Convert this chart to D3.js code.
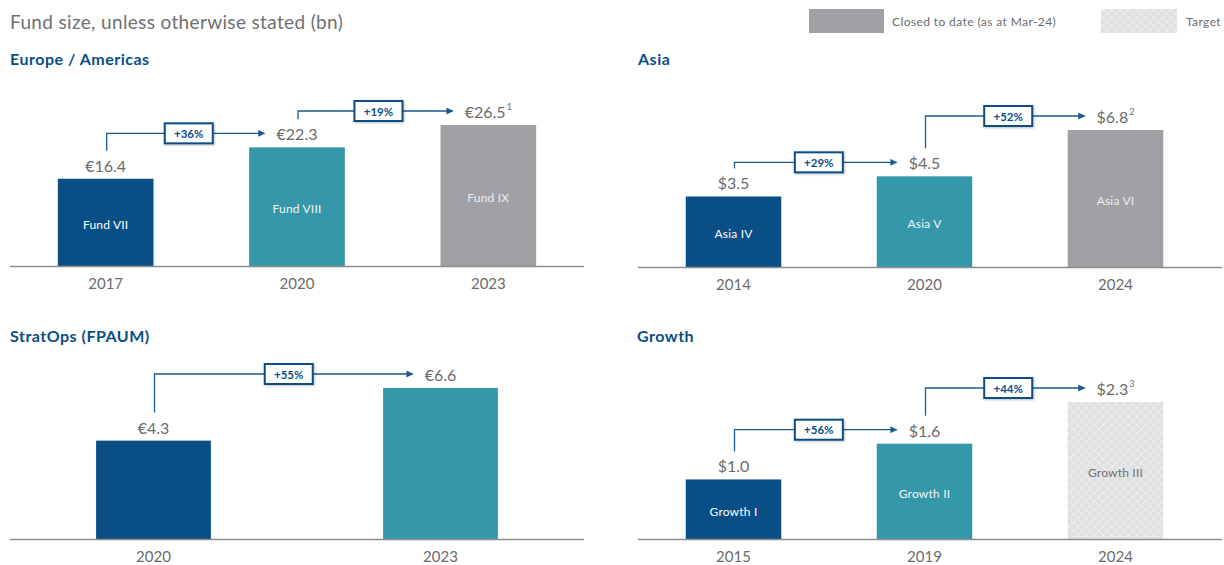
<!DOCTYPE html>
<html>
<head>
<meta charset="utf-8">
<script src="https://cdn.jsdelivr.net/npm/d3@7"></script>
<style>
  body { margin: 0; background: #fff; }
  svg { font-family: Lato, "Open Sans", sans-serif; display: block; }
</style>
</head>
<body>
<svg id="chart" width="1224" height="565"></svg>
<script>
// fund sizes in bn
var euYears = ["2017", "2020", "2023"];
var euValues = [16.4, 22.3, 26.5];
var euFunds = ["Fund VII", "Fund VIII", "Fund IX"];
var euChange = ["+36%", "+19%"];
var euNotes = ["", "", "1"];
var euStatus = ["old", "recent", "closed"];

var asiaYears = ["2014", "2020", "2024"];
var asiaValues = [3.5, 4.5, 6.8];
var asiaFunds = ["Asia IV", "Asia V", "Asia VI"];
var asiaChange = ["+29%", "+52%"];
var asiaNotes = ["", "", "2"];
var asiaStatus = ["old", "recent", "closed"];

var stratYears = ["2020", "2023"];
var stratValues = [4.3, 6.6];
var stratFunds = ["", ""];
var stratChange = ["+55%"];
var stratNotes = ["", ""];
var stratStatus = ["old", "recent"];

var growthYears = ["2015", "2019", "2024"];
var growthValues = [1.0, 1.6, 2.3];
var growthFunds = ["Growth I", "Growth II", "Growth III"];
var growthChange = ["+56%", "+44%"];
var growthNotes = ["", "", "3"];
var growthStatus = ["old", "recent", "target"];

var BLUE = "#0a4e86", TEAL = "#3598aa", GREY = "#a0a1a5", HATCH = "#dfe0e2";
var TXT = "#6b6b6b", ARROW = "#1d5a90";

var fills = { old: BLUE, recent: TEAL, closed: GREY, target: "url(#hatch)" };
var innerText = { old: "#ffffff", recent: "#f2f6f7", closed: "#eeeeee", target: "#707070" };

var svg = d3.select("#chart");
var defs = svg.append("defs");

var hatch = defs.append("pattern").attr("id", "hatch")
  .attr("patternUnits", "userSpaceOnUse").attr("width", 6).attr("height", 6)
  .attr("patternTransform", "rotate(45)");
hatch.append("rect").attr("width", 6).attr("height", 6).attr("fill", HATCH);
hatch.append("path").attr("d", "M0,0H6M0,0V6").attr("stroke", "#f7f7f8").attr("stroke-width", 1.1);

defs.append("marker").attr("id", "arrowhead")
  .attr("viewBox", "0 0 10 10").attr("refX", 9).attr("refY", 5)
  .attr("markerWidth", 7).attr("markerHeight", 7).attr("markerUnits", "userSpaceOnUse")
  .attr("orient", "auto")
  .append("path").attr("d", "M0,0L10,5L0,10z").attr("fill", ARROW);

var shadow = defs.append("filter").attr("id", "shadow")
  .attr("x", "-20%").attr("y", "-30%").attr("width", "150%").attr("height", "180%");
shadow.append("feDropShadow").attr("dx", 1).attr("dy", 1).attr("stdDeviation", 1)
  .attr("flood-color", "#000").attr("flood-opacity", 0.25);

// header + legend
svg.append("text").attr("x", 10).attr("y", 21).attr("dominant-baseline", "central")
  .attr("font-size", 19).attr("letter-spacing", 0.35).attr("fill", "#707070")
  .text("Fund size, unless otherwise stated (bn)");

svg.append("rect").attr("x", 809).attr("y", 9).attr("width", 75).attr("height", 24).attr("fill", GREY);
svg.append("text").attr("x", 892).attr("y", 21).attr("dominant-baseline", "central")
  .attr("font-size", 12).attr("letter-spacing", 0.4).attr("fill", TXT).text("Closed to date (as at Mar-24)");
svg.append("rect").attr("x", 1101).attr("y", 9).attr("width", 76).attr("height", 24).attr("fill", "url(#hatch)");
svg.append("text").attr("x", 1186).attr("y", 21).attr("dominant-baseline", "central")
  .attr("font-size", 12).attr("letter-spacing", 0.4).attr("fill", TXT).text("Target");

function drawPanel(p) {
  var g = svg.append("g");

  g.append("text").attr("x", p.tx).attr("y", p.ty).attr("dominant-baseline", "central")
    .attr("font-size", 16).attr("letter-spacing", 0.5).attr("font-weight", 700)
    .attr("fill", BLUE).text(p.title);

  var x = d3.scaleBand().domain(p.years).range(p.range)
    .paddingInner(p.pad).paddingOuter(p.outer);
  var y = d3.scaleLinear().domain([0, d3.max(p.values)]).range([p.base, p.top]);
  var bw = x.bandwidth();

  var rows = p.years.map(function(yr, i) {
    return { year: yr, value: p.values[i], fund: p.funds[i], note: p.notes[i], status: p.status[i] };
  });

  g.selectAll("rect.bar").data(rows).enter().append("rect").attr("class", "bar")
    .attr("x", function(d) { return x(d.year); })
    .attr("y", function(d) { return y(d.value); })
    .attr("width", bw)
    .attr("height", function(d) { return p.base - y(d.value); })
    .attr("fill", function(d) { return fills[d.status]; });

  g.selectAll("text.fund").data(rows).enter().append("text").attr("class", "fund")
    .attr("x", function(d) { return x(d.year) + bw / 2; })
    .attr("y", function(d) { return (y(d.value) + p.base) / 2 + 2; })
    .attr("text-anchor", "middle").attr("dominant-baseline", "central")
    .attr("font-size", 12).attr("letter-spacing", 0.2)
    .attr("fill", function(d) { return innerText[d.status]; })
    .text(function(d) { return d.fund; });

  // axis: years under the baseline, line drawn across the panel
  var axis = d3.axisBottom(x).tickSize(0).tickPadding(12);
  var ax = g.append("g").attr("transform", "translate(0," + p.base + ")").call(axis);
  ax.select(".domain").remove();
  ax.selectAll("text").attr("font-size", 15).attr("fill", TXT)
    .attr("font-family", "Lato, sans-serif");
  g.append("line").attr("x1", p.axis[0]).attr("x2", p.axis[1])
    .attr("y1", p.base + 0.5).attr("y2", p.base + 0.5)
    .attr("stroke", "#8d8d8d").attr("stroke-width", 1.6);

  var labels = g.selectAll("text.val").data(rows).enter().append("text").attr("class", "val")
    .attr("x", function(d) { return x(d.year) + bw / 2; })
    .attr("y", function(d) { return y(d.value) - 14; })
    .attr("text-anchor", "middle").attr("dominant-baseline", "central")
    .attr("font-size", 16).attr("fill", TXT);
  labels.append("tspan").text(function(d) { return p.cur + d.value.toFixed(1); });
  labels.filter(function(d) { return d.note; }).append("tspan")
    .attr("font-size", 9).attr("dx", 1).attr("dy", -5).text(function(d) { return d.note; });

  var widths = [];
  labels.each(function() { widths.push(this.getBBox().width); });

  // growth arrows between consecutive funds
  p.change.forEach(function(c, i) {
    var x0 = x(p.years[i]) + bw / 2 + 1;
    var y0 = y(p.values[i]) - 28;
    var y1 = y(p.values[i + 1]) - 14;
    var tip = x(p.years[i + 1]) + bw / 2 - widths[i + 1] / 2 - 12;
    g.append("path").attr("d", "M" + x0 + "," + y0 + "V" + y1 + "H" + tip)
      .attr("fill", "none").attr("stroke", ARROW).attr("stroke-width", 1.3)
      .attr("marker-end", "url(#arrowhead)");
    var bx = x0 + (tip - x0) * 0.52;
    g.append("rect").attr("x", bx - 24).attr("y", y1 - 10).attr("width", 48).attr("height", 20)
      .attr("fill", "#fff").attr("stroke", BLUE).attr("stroke-width", 2)
      .attr("filter", "url(#shadow)");
    g.append("text").attr("x", bx).attr("y", y1).attr("text-anchor", "middle")
      .attr("dominant-baseline", "central").attr("font-size", 11.5).attr("font-weight", 700)
      .attr("fill", BLUE).text(c);
  });
}

drawPanel({ title: "Europe / Americas", tx: 10, ty: 58, years: euYears, values: euValues,
  funds: euFunds, notes: euNotes, status: euStatus, change: euChange, cur: "\u20ac",
  range: [10, 584], pad: 0.5, outer: 0.25, axis: [10, 584], base: 266, top: 125 });

drawPanel({ title: "Asia", tx: 638, ty: 58, years: asiaYears, values: asiaValues,
  funds: asiaFunds, notes: asiaNotes, status: asiaStatus, change: asiaChange, cur: "$",
  range: [638, 1211], pad: 0.5, outer: 0.25, axis: [638, 1222], base: 267, top: 130 });

drawPanel({ title: "StratOps (FPAUM)", tx: 10, ty: 335, years: stratYears, values: stratValues,
  funds: stratFunds, notes: stratNotes, status: stratStatus, change: stratChange, cur: "\u20ac",
  range: [10, 584], pad: 0.6, outer: 0.3, axis: [10, 584], base: 539, top: 388 });

drawPanel({ title: "Growth", tx: 637, ty: 335, years: growthYears, values: growthValues,
  funds: growthFunds, notes: growthNotes, status: growthStatus, change: growthChange, cur: "$",
  range: [638, 1211], pad: 0.5, outer: 0.25, axis: [638, 1222], base: 539, top: 402 });
</script>
</body>
</html>
